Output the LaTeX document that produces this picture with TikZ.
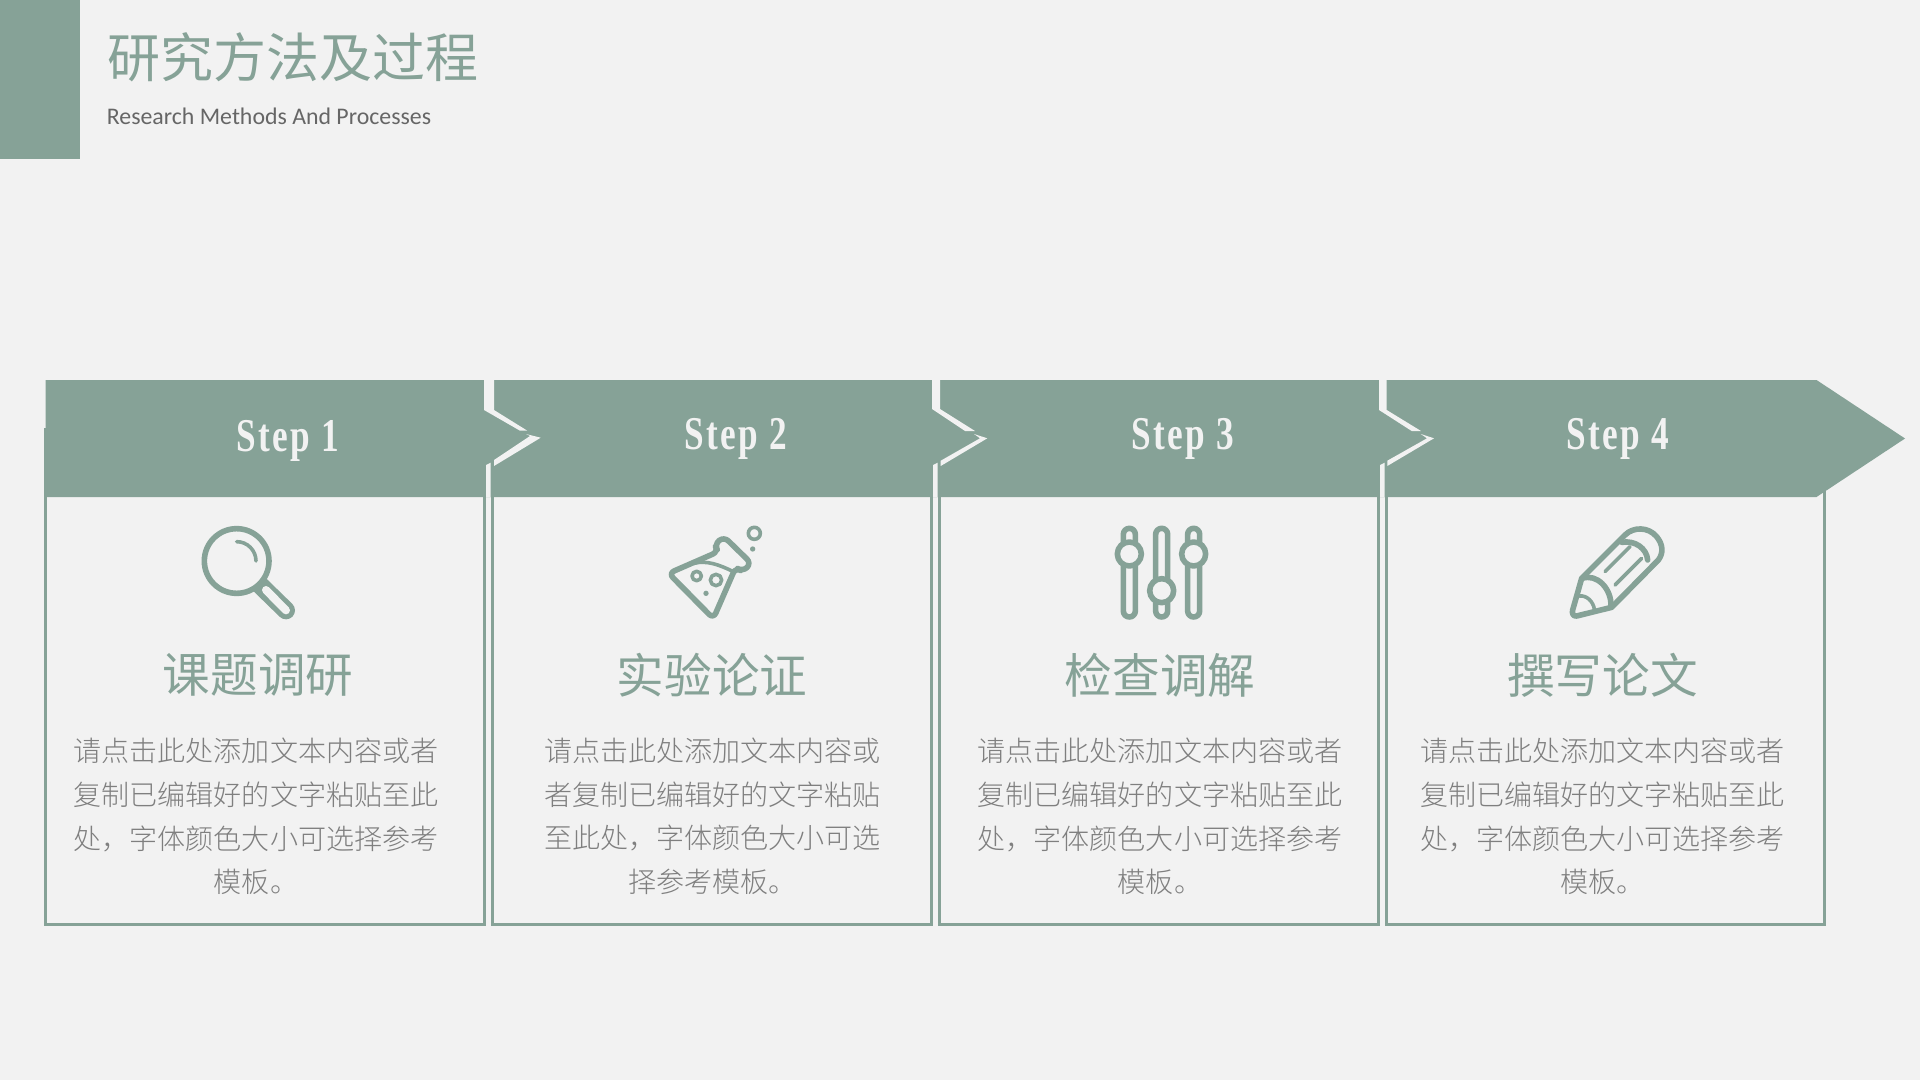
\documentclass[tikz,border=0pt]{standalone}
\usepackage{fontspec}
\setmainfont{Carlito}
\newfontfamily\cjk{Noto Sans CJK SC}
\newfontfamily\cjklight{Noto Sans CJK SC Light}
\newfontfamily\stepfont[FakeStretch=0.75,LetterSpace=5,BoldFont={Liberation Serif Bold}]{Liberation Serif}
\definecolor{sage}{HTML}{86A297}
\definecolor{paper}{HTML}{F2F2F2}
\definecolor{bodytxt}{HTML}{7F7F7F}
\definecolor{subtxt}{HTML}{666666}
\tikzset{
  x=0.5pt,y=-0.5pt,
  steplabel/.style={text=paper,font=\stepfont\bfseries\fontsize{23.5}{28}\selectfont},
  cardtitle/.style={text=sage,font=\cjk\fontsize{23.8}{28}\selectfont},
  cardbody/.style={text=bodytxt,align=center,inner sep=0pt,font=\cjklight\fontsize{14.03}{21.8}\selectfont},
  frameline/.style={draw=sage,line width=1.4pt},
  gap/.style={fill=paper,draw=none},
  ico/.style={draw=sage,line width=2.8pt,line join=round,line cap=round},
  icothin/.style={draw=sage,line width=1.8pt,line cap=round,line join=round},
}
\begin{document}
\begin{tikzpicture}
\useasboundingbox (0,0) rectangle (1920,1080);
\fill[paper] (0,0) rectangle (1920,1080);
\fill[sage] (0,0) rectangle (80,159);
\node[anchor=center,text=sage,font=\cjk\fontsize{26.5}{30}\selectfont,inner sep=0pt] (maintitle) at (293,57) {研究方法及过程};
\node[anchor=center,text=subtxt,font=\fontsize{11.92}{14}\selectfont,inner sep=0pt] (subtitle) at (269,116) {Research Methods And Processes};

% frames
\draw[frameline] (45.5,490) -- (45.5,924.5) -- (484.5,924.5) -- (484.5,490);
\draw[frameline] (492.5,490) -- (492.5,924.5) -- (931.5,924.5) -- (931.5,490);
\draw[frameline] (939.3,490) -- (939.3,924.5) -- (1378.5,924.5) -- (1378.5,490);
\draw[frameline] (1386.3,490) -- (1386.3,924.5) -- (1824.5,924.5) -- (1824.5,490);

% header band
\fill[sage] (45.5,380) -- (1816.5,380) -- (1905,438.5) -- (1816.5,497) -- (44,497) -- (44,428) -- (45.5,428) -- cycle;

% separators
\fill[gap] (484,380) -- (494,380) -- (494,410) -- (527.3,430.7) -- (520,430.7) -- (484,410) -- cycle;
\fill[gap] (526,434) -- (540.7,437.7) -- (494,466) -- (494,460) -- (530,436) -- cycle;
\fill[gap] (486,465) -- (490.7,462.7) -- (490.7,497) -- (486,497) -- cycle;
\fill[gap] (932,380) -- (940,380) -- (940,409) -- (975,431) -- (965,431) -- (932,409) -- cycle;
\fill[gap] (974,434) -- (987.3,438.3) -- (940.7,466) -- (940.7,460.7) -- (980,438.3) -- cycle;
\fill[gap] (933,465) -- (937.7,462.7) -- (937.7,497) -- (933,497) -- cycle;
\fill[gap] (1379,380) -- (1386.7,380) -- (1386.7,410) -- (1421,431) -- (1411.7,431) -- (1379,410) -- cycle;
\fill[gap] (1420.7,434) -- (1434,438.3) -- (1387.3,466) -- (1387.3,460.7) -- (1427,438.3) -- cycle;
\fill[gap] (1380,465) -- (1384.7,462.7) -- (1384.7,497) -- (1380,497) -- cycle;

\node[steplabel] (s1) at (288,441) {Step 1};
\node[steplabel] (s2) at (736,439) {Step 2};
\node[steplabel] (s3) at (1183,439) {Step 3};
\node[steplabel] (s4) at (1617.5,439) {Step 4};

% magnifier
\begin{scope}[shift={(180,510)},scale=1/3]
  \draw[sage,line width=9pt,line cap=round] (240,225) -- (318,301);
  \draw[paper,line width=4pt,line cap=round] (258,240) -- (318,301);
  \fill[paper] (170,153) circle (98);
  \draw[ico] (170,153) circle (97);
  \draw[icothin] (170,95) arc[start angle=-90,end angle=0,radius=58];
\end{scope}

% flask
\begin{scope}[shift={(650,510)},scale=1/3]
  \draw[ico,rounded corners=3pt] (205,125) -- (193,103) -- (222,80) -- (304,160) -- (278,185) -- (257,172) -- (190,326) -- (56,190) -- cycle;
  \draw[icothin] (132,160) .. controls (170,150) and (210,165) .. (250,185);
  \draw[icothin] (140,198) circle (14);
  \draw[icothin] (198,210) circle (17);
  \fill[sage] (168,250) circle (8);
  \draw[icothin] (313,70) circle (18);
  \fill[sage] (308,117) circle (8);
\end{scope}

% sliders
\begin{scope}[shift={(1090,510)},scale=1/3]
  \draw[ico,rounded corners=3pt] (100,55) rectangle (136,321);
  \draw[ico,rounded corners=3pt] (197,55) rectangle (233,321);
  \draw[ico,rounded corners=3pt] (293,55) rectangle (329,321);
  \filldraw[ico,fill=paper] (118,132) circle (36);
  \filldraw[ico,fill=paper] (215,242) circle (36);
  \filldraw[ico,fill=paper] (311,132) circle (36);
\end{scope}

% pencil
\begin{scope}[shift={(1550,510)},scale=1/3]
  \draw[ico] (95,205) -- (225,75) .. controls (250,50) and (295,50) .. (320,80) .. controls (340,105) and (340,130) .. (325,150) -- (185,292) -- (80,318) .. controls (70,320) and (65,310) .. (68,300) -- cycle;
  \draw[ico] (215,97) .. controls (255,90) and (290,115) .. (293,150);
  \draw[ico] (97,205) .. controls (140,190) and (185,235) .. (183,290);
  \draw[icothin] (165,185) -- (240,110);
  \draw[icothin] (195,225) -- (275,145);
  \draw[icothin] (88,258) .. controls (110,255) and (130,275) .. (133,298);
\end{scope}

\node[cardtitle] (t1) at (258,675) {课题调研};
\node[cardtitle] (t2) at (712,675) {实验论证};
\node[cardtitle] (t3) at (1160,675) {检查调解};
\node[cardtitle] (t4) at (1602.5,675) {撰写论文};

\node[cardbody] (b1) at (256,816.5) {请点击此处添加文本内容或者\\复制已编辑好的文字粘贴至此\\处，字体颜色大小可选择参考\\模板。};
\node[cardbody] (b2) at (712.5,816.5) {请点击此处添加文本内容或\\者复制已编辑好的文字粘贴\\至此处，字体颜色大小可选\\择参考模板。};
\node[cardbody] (b3) at (1160,816.5) {请点击此处添加文本内容或者\\复制已编辑好的文字粘贴至此\\处，字体颜色大小可选择参考\\模板。};
\node[cardbody] (b4) at (1602.5,816.5) {请点击此处添加文本内容或者\\复制已编辑好的文字粘贴至此\\处，字体颜色大小可选择参考\\模板。};
\end{tikzpicture}
\end{document}
